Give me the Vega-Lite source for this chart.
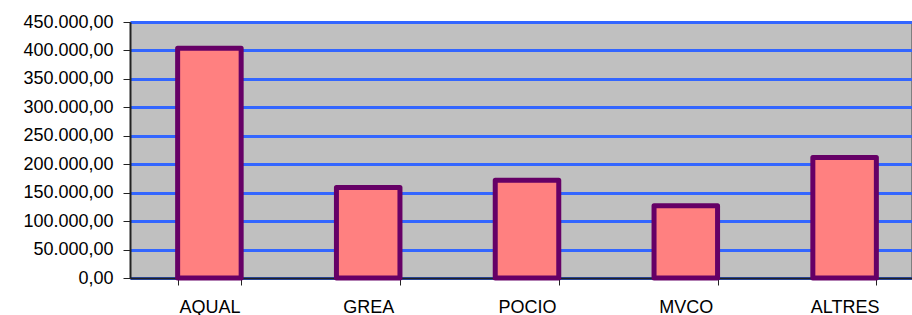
{
  "$schema": "https://vega.github.io/schema/vega-lite/v6.json",
  "width": 781,
  "height": 256,
  "autosize": {"type": "none"},
  "padding": {"left": 130, "top": 22, "right": 1, "bottom": 37},
  "background": "white",
  "data": {
    "values": [
      {"categoria": "AQUAL", "valor": 404000},
      {"categoria": "GREA", "valor": 159000},
      {"categoria": "POCIO", "valor": 172000},
      {"categoria": "MVCO", "valor": 127000},
      {"categoria": "ALTRES", "valor": 212000}
    ]
  },
  "mark": {"type": "bar", "fill": "#FF8080", "stroke": "#660066", "strokeWidth": 5, "strokeJoin": "round"},
  "encoding": {
    "x": {
      "field": "categoria",
      "type": "nominal",
      "sort": null,
      "scale": {"paddingInner": 0.6, "paddingOuter": 0.3, "range": [0, 794]},
      "axis": {
        "title": null,
        "labelAngle": 0,
        "labelFont": "Liberation Sans",
        "labelFontSize": 18,
        "labelColor": "black",
        "labelPadding": 13,
        "tickBand": "extent",
        "tickSize": 7,
        "tickColor": "#222222",
        "domainColor": "#222222",
        "domainWidth": 2,
        "grid": false
      }
    },
    "y": {
      "field": "valor",
      "type": "quantitative",
      "scale": {"domain": [0, 450000], "nice": false},
      "axis": {
        "title": null,
        "values": [0, 50000, 100000, 150000, 200000, 250000, 300000, 350000, 400000, 450000],
        "format": ",.2f",
        "labelFont": "Liberation Sans",
        "labelFontSize": 18,
        "labelColor": "black",
        "labelPadding": 10,
        "tickSize": 7,
        "tickColor": "#222222",
        "domainColor": "#222222",
        "domainWidth": 2,
        "grid": true,
        "gridColor": "#3366FF",
        "gridWidth": 3,
        "gridOpacity": 1
      }
    }
  },
  "config": {
    "locale": {
      "number": {"decimal": ",", "thousands": ".", "grouping": [3], "currency": ["", " €"]}
    },
    "view": {"fill": "#C0C0C0", "stroke": "#808080", "strokeWidth": 1},
    "axis": {"labelFlush": false, "labelOverlap": false}
  }
}
